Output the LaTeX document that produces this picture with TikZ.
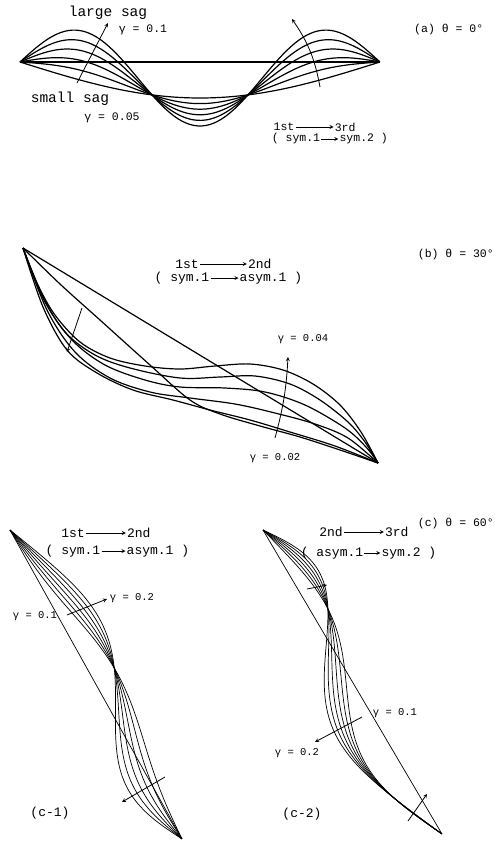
\documentclass[tikz,border=0pt]{standalone}
\usepackage{fontspec}
\setmonofont{Liberation Mono}
\usetikzlibrary{positioning}
\tikzset{
  modeline/.style={line width=1.2pt, line join=round},
  finemode/.style={line width=0.7pt, line join=round},
  lbl/.style={font=\ttfamily\fontsize{11.5}{13}\selectfont, inner sep=1pt},
  modelbl/.style={font=\ttfamily\fontsize{13}{15}\selectfont, inner sep=1pt},
  biglbl/.style={font=\ttfamily\fontsize{14.5}{16}\selectfont, inner sep=1pt},
  glbl/.style={font=\ttfamily\fontsize{10.5}{12}\selectfont, inner sep=1pt},
  sweep/.style={-stealth, line width=0.8pt},
}

\begin{document}
\begin{tikzpicture}[x=1pt,y=-1pt]
\useasboundingbox (0,0) rectangle (495,844);

% (a) theta = 0
\coordinate (a-left) at (20,62);
\coordinate (a-right) at (380,62);
\draw[modeline] (a-left) -- (a-right);
\foreach \k in {0,...,5}
  \draw[modeline] plot[domain=0:1, samples=90, variable=\s]
    ({20+360*\s}, {62+(36-14.3*\k/5)*sin(180*\s)-42.3*\k/5*sin(540*\s)});
\coordinate (a-tail1) at (77,83);
\coordinate (a-head1) at (108,23);
\coordinate (a-tail2) at (320,87);
\coordinate (a-head2) at (292,19);
\draw[sweep] (a-tail1) -- (a-head1);
\draw[sweep] (a-tail2) to[bend right=12] (a-head2);
\node[biglbl] (a-large) at (108,13) {large sag};
\node[lbl] (a-g1) at (143,30) {γ = 0.1};
\node[biglbl] (a-small) at (70,99) {small sag};
\node[lbl] (a-g2) at (112,118) {γ = 0.05};
\node[lbl] (a-first) at (284,127) {1st};
\node[lbl, right=38pt of a-first] (a-third) {3rd};
\draw[sweep] (a-first) -- (a-third);
\node[lbl] (a-sym1) at (296,139) {( sym.1};
\node[lbl, right=17pt of a-sym1] (a-sym2) {sym.2 )};
\draw[sweep] (a-sym1) -- (a-sym2);
\node[lbl, anchor=west] (a-title) at (413,30) {(a)  θ = 0°};

% (b) theta = 30
\coordinate (b-top) at (23,248);
\coordinate (b-bot) at (378,463);
\draw[modeline] (b-top) -- (b-bot);
\foreach \pts in {
  {(38,285) (55,315) (80,342) (110,358) (145,366) (180,369) (215,366) (250,364) (283,370) (313,384) (340,405) (361,432)},
  {(42,295) (65,332) (95,355) (130,368) (180,378) (220,377) (255,376) (290,384) (320,400) (348,422) (365,442)},
  {(45,302) (72,340) (105,365) (145,380) (180,387) (225,388) (265,392) (305,405) (345,428) (366,447)},
  {(47,310) (75,352) (110,378) (150,392) (190,398) (235,404) (275,413) (315,424) (348,438)},
  {(43,307) (67,350) (97,373) (133,390) (173,400) (210,410) (250,420) (290,432) (335,446)},
  {(60,284) (100,320) (150,365) (190,400) (220,414) (260,426) (300,437) (340,450)}}
  \draw[modeline] plot[smooth, tension=0.55] coordinates {(23,248) \pts (378,463)};
\coordinate (b-tail1) at (82,308);
\coordinate (b-head1) at (67,352);
\coordinate (b-tail2) at (275,438);
\coordinate (b-head2) at (288,357);
\draw[sweep] (b-tail1) -- (b-head1);
\draw[sweep] (b-tail2) to[bend right=6] (b-head2);
\node[glbl] (b-g1) at (303,339) {γ = 0.04};
\node[glbl] (b-g2) at (275,458) {γ = 0.02};
\node[modelbl] (b-first) at (187,264) {1st};
\node[modelbl, right=47pt of b-first] (b-second) {2nd};
\draw[sweep] (b-first) -- (b-second);
\node[modelbl] (b-sym1) at (182,278) {( sym.1};
\node[modelbl, right=28pt of b-sym1] (b-asym1) {asym.1 )};
\draw[sweep] (b-sym1) -- (b-asym1);
\node[lbl, anchor=east] (b-title) at (495,255) {(b)  θ = 30°};

% (c) theta = 60
\node[lbl, anchor=east] (c-title) at (495,524) {(c)  θ = 60°};

% (c-1)
\coordinate (c1-top) at (10,530);
\coordinate (c1-bot) at (182,839);
\draw[finemode] (c1-top) -- (c1-bot);
\foreach \k in {0,...,5}
  \draw[finemode] plot[domain=0:1, samples=90, variable=\s]
    ({10+172*\s+0.874*((19.7-5.3*\k/5)*sin(180*\s)+26*\k/5*sin(360*\s)-(4.3+2.8*\k/5)*sin(540*\s))},
     {530+309*\s-0.486*((19.7-5.3*\k/5)*sin(180*\s)+26*\k/5*sin(360*\s)-(4.3+2.8*\k/5)*sin(540*\s))});
\coordinate (c1-tail1) at (67,615);
\coordinate (c1-head1) at (107,599);
\coordinate (c1-tail2) at (165,777);
\coordinate (c1-head2) at (122,802);
\draw[sweep] (c1-tail1) -- (c1-head1);
\draw[sweep] (c1-tail2) -- (c1-head2);
\node[glbl] (c1-g1) at (35,616) {γ = 0.1};
\node[glbl] (c1-g2) at (132,598) {γ = 0.2};
\node[modelbl] (c1-first) at (73,533) {1st};
\node[modelbl, right=40pt of c1-first] (c1-second) {2nd};
\draw[sweep] (c1-first) -- (c1-second);
\node[modelbl] (c1-sym1) at (73,551) {( sym.1};
\node[modelbl, right=24pt of c1-sym1] (c1-asym1) {asym.1 )};
\draw[sweep] (c1-sym1) -- (c1-asym1);
\node[modelbl] (c1-name) at (50,813) {(c-1)};

% (c-2)
\coordinate (c2-top) at (263,530);
\coordinate (c2-bot) at (442,834);
\draw[finemode] (c2-top) -- (c2-bot);
\foreach \k in {0,...,5}
  \draw[finemode] plot[domain=0:1, samples=90, variable=\s]
    ({263+179*\s+0.862*(-(8.4+11.9*\k/5)*sin(180*\s)+(23+5.2*\k/5)*sin(360*\s)+(12.75*\k/5-1.3)*sin(540*\s)+3*(\k/5-0.5)*sin(720*\s))},
     {530+304*\s-0.507*(-(8.4+11.9*\k/5)*sin(180*\s)+(23+5.2*\k/5)*sin(360*\s)+(12.75*\k/5-1.3)*sin(540*\s)+3*(\k/5-0.5)*sin(720*\s))});
\coordinate (c2-tail1) at (307,589);
\coordinate (c2-head1) at (327,585);
\coordinate (c2-tail2) at (362,717);
\coordinate (c2-head2) at (315,742);
\coordinate (c2-tail3) at (408,821);
\coordinate (c2-head3) at (427,794);
\draw[sweep] (c2-tail1) -- (c2-head1);
\draw[sweep] (c2-tail2) -- (c2-head2);
\draw[sweep] (c2-tail3) -- (c2-head3);
\node[glbl] (c2-g1) at (395,713) {γ = 0.1};
\node[glbl] (c2-g2) at (297,753) {γ = 0.2};
\node[modelbl] (c2-second) at (331,532) {2nd};
\node[modelbl, right=40pt of c2-second] (c2-third) {3rd};
\draw[sweep] (c2-second) -- (c2-third);
\node[modelbl] (c2-asym1) at (332,553) {( asym.1};
\node[modelbl, right=16pt of c2-asym1] (c2-sym2) {sym.2 )};
\draw[sweep] (c2-asym1) -- (c2-sym2);
\node[modelbl] (c2-name) at (302,814) {(c-2)};
\end{tikzpicture}
\end{document}
